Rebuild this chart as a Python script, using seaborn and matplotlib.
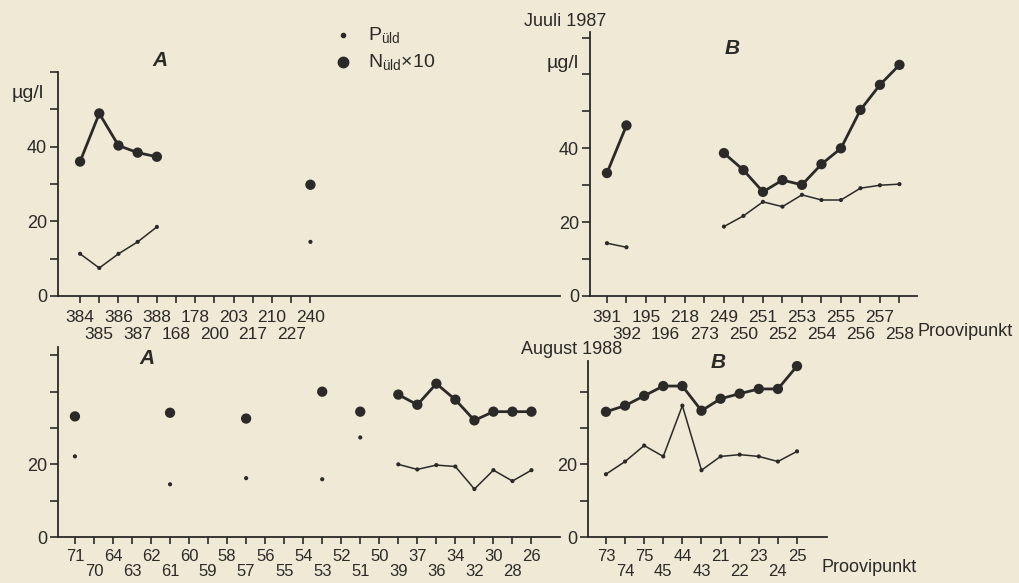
import numpy as np
import pandas as pd
import matplotlib.pyplot as plt
import seaborn as sns

nan = np.nan

# Juuli 1987, A
stations_ja = [384, 385, 386, 387, 388, 168, 178, 200, 203, 217, 210, 227, 240]
n_ja = [36.0, 48.9, 40.3, 38.4, 37.3, nan, nan, nan, nan, nan, nan, nan, 29.8]
p_ja = [11.3, 7.5, 11.3, 14.5, 18.5, nan, nan, nan, nan, nan, nan, nan, 14.5]

# Juuli 1987, B
stations_jb = [391, 392, 195, 196, 218, 273, 249, 250, 251, 252, 253, 254, 255, 256, 257, 258]
n_jb = [33.3, 46.2, nan, nan, nan, nan, 38.7, 34.1, 28.2, 31.4, 30.1, 35.7, 40.0, 50.4, 57.2, 62.6]
p_jb = [14.3, 13.2, nan, nan, nan, nan, 18.8, 21.7, 25.5, 24.2, 27.4, 26.0, 26.0, 29.2, 30.0, 30.3]

# August 1988, A
stations_aa = [71, 70, 64, 63, 62, 61, 60, 59, 58, 57, 56, 55, 54, 53, 52, 51, 50,
               39, 37, 36, 34, 32, 30, 28, 26]
n_aa = [33.2, nan, nan, nan, nan, 34.2, nan, nan, nan, 32.6, nan, nan, nan, 40.0, nan, 34.5, nan,
        39.2, 36.4, 42.2, 37.8, 32.1, 34.5, 34.5, 34.5]
p_aa = [22.2, nan, nan, nan, nan, 14.5, nan, nan, nan, 16.2, nan, nan, nan, 15.9, nan, 27.4, nan,
        20.0, 18.6, 19.8, 19.4, 13.2, 18.4, 15.4, 18.4]

# August 1988, B
stations_ab = [73, 74, 75, 45, 44, 43, 21, 22, 23, 24, 25]
n_ab = [34.5, 36.2, 38.9, 41.6, 41.6, 34.8, 38.1, 39.5, 40.8, 40.8, 47.1]
p_ab = [17.3, 20.8, 25.2, 22.2, 36.2, 18.4, 22.2, 22.7, 22.2, 20.8, 23.6]

W, H = 1020, 583
paper = "#efe9d6"
ink = "#2b2a28"

sns.set_style("ticks")
plt.rcParams["font.family"] = ["Liberation Sans", "DejaVu Sans"]
plt.rcParams["mathtext.fontset"] = "custom"
plt.rcParams["mathtext.rm"] = "Liberation Sans"


def px_axes(fig, left, right, top, bottom):
    return fig.add_axes([left / W, (H - bottom) / H, (right - left) / W, (bottom - top) / H])


def draw_panel(ax, stations, n_vals, p_vals, xlim, ytop, ylabels, pads=(5.2, 17.4), fs=12.5):
    df = pd.DataFrame({"station": stations, "N": n_vals, "P": p_vals})
    df["pos"] = np.arange(len(df))
    for col, lw, ms in [("N", 2.0, 55), ("P", 1.1, 9)]:
        d = df[["pos", col]].copy()
        d["seg"] = d[col].isna().cumsum()
        d = d.dropna()
        sns.lineplot(data=d, x="pos", y=col, units="seg", estimator=None,
                     color=ink, lw=lw, ax=ax, legend=False)
        sns.scatterplot(data=d, x="pos", y=col, color=ink, s=ms,
                        edgecolor="none", ax=ax, legend=False, zorder=3)
    ax.set_xlim(*xlim)
    ax.set_ylim(0, ytop)
    # staggered labels: even stations on major ticks, odd ones on minor ticks (lower row)
    even = df[df["pos"] % 2 == 0]
    odd = df[df["pos"] % 2 == 1]
    ax.set_xticks(even["pos"])
    ax.set_xticklabels(even["station"].astype(str), fontsize=fs, color=ink)
    ax.set_xticks(odd["pos"], minor=True)
    ax.set_xticklabels(odd["station"].astype(str), minor=True, fontsize=fs, color=ink)
    yt = np.arange(0, ytop + 0.5, 10)
    ax.set_yticks(yt)
    ax.set_yticklabels([f"{v:g}" if v in ylabels else "" for v in yt], fontsize=13, color=ink)
    ax.tick_params(axis="x", which="major", direction="out", length=5, width=1.2, pad=pads[0], colors=ink)
    ax.tick_params(axis="x", which="minor", direction="out", length=5, width=1.2, pad=pads[1], colors=ink)
    ax.tick_params(axis="y", direction="out", length=6, width=1.2, pad=2, colors=ink)
    ax.set_xlabel("")
    ax.set_ylabel("")
    ax.set_facecolor("none")
    sns.despine(ax=ax)
    for sp in ["left", "bottom"]:
        ax.spines[sp].set_color(ink)
        ax.spines[sp].set_linewidth(1.3)


fig = plt.figure(figsize=(W / 100, H / 100), dpi=100, facecolor=paper)

ax1 = px_axes(fig, 58, 560, 72, 296)
draw_panel(ax1, stations_ja, n_ja, p_ja, (-1.15, 25.0), 60, [0, 20, 40])
ax2 = px_axes(fig, 590, 917, 32, 296)
draw_panel(ax2, stations_jb, n_jb, p_jb, (-0.87, 15.9), 71.5, [0, 20, 40])
ax3 = px_axes(fig, 58, 560, 347, 537)
draw_panel(ax3, stations_aa, n_aa, p_aa, (-0.89, 25.5), 52.3, [0, 20], pads=(3.6, 14.6), fs=12)
ax4 = px_axes(fig, 588, 827, 361, 537)
draw_panel(ax4, stations_ab, n_ab, p_ab, (-0.94, 11.57), 48.5, [0, 20], pads=(3.6, 14.6), fs=12)


def ftext(x, y, s, **kw):
    kw.setdefault("color", ink)
    kw.setdefault("va", "center")
    fig.text(x / W, 1 - y / H, s, **kw)


ftext(28, 93, "µg/l", fontsize=14, ha="center")
ftext(563, 63, "µg/l", fontsize=14, ha="center")
ftext(160, 60, "A", fontsize=15, style="italic", weight="bold", ha="center")
ftext(732, 49, "B", fontsize=15, style="italic", weight="bold", ha="center")
ftext(147, 358, "A", fontsize=15, style="italic", weight="bold", ha="center")
ftext(718, 362, "B", fontsize=15, style="italic", weight="bold", ha="center")
ftext(565, 22, "Juuli 1987", fontsize=13, ha="center")
ftext(572, 350, "August 1988", fontsize=13, ha="center")
ftext(918, 331, "Proovipunkt", fontsize=13, ha="left")
ftext(822, 568, "Proovipunkt", fontsize=13, ha="left")

# legend
fig.add_artist(plt.Line2D([343 / W], [1 - 35 / H], marker="o", ms=3, color=ink, lw=0))
fig.add_artist(plt.Line2D([343 / W], [1 - 62 / H], marker="o", ms=7.5, color=ink, lw=0))
ftext(368, 35, r"$\mathregular{P_{üld}}$", fontsize=14, ha="left")
ftext(368, 62, r"$\mathregular{N_{üld}}$×10", fontsize=14, ha="left")

fig.savefig("out.png", dpi=100, facecolor=paper)
